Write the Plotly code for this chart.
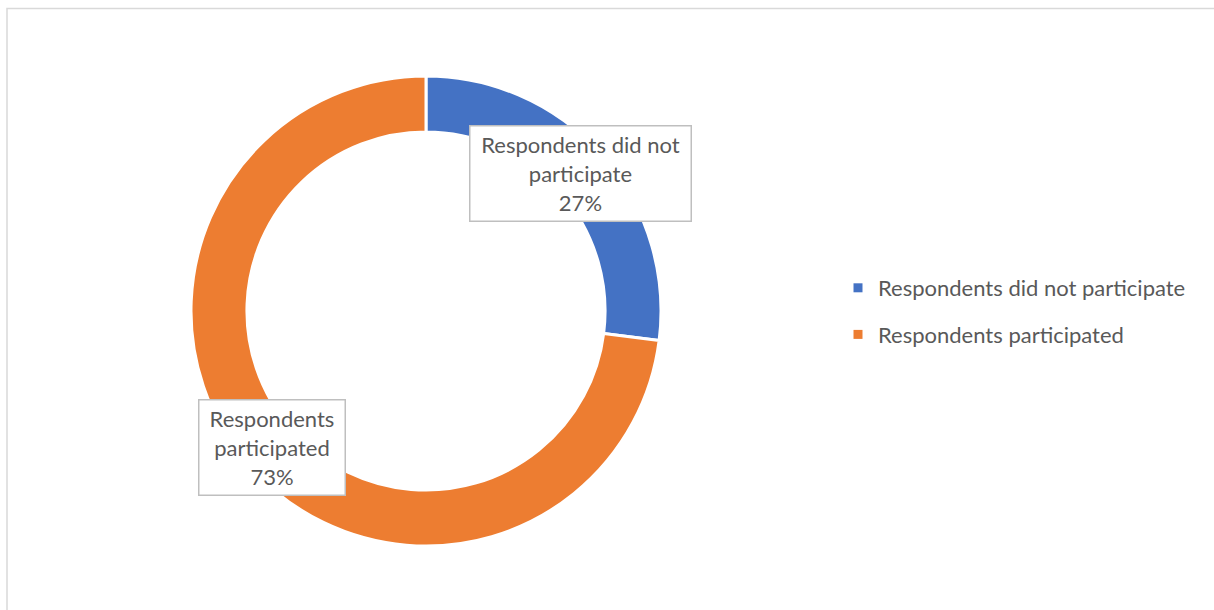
import plotly.graph_objects as go

categories = ["Respondents did not participate", "Respondents participated"]
values = [27, 73]
colors = ["#4472C4", "#ED7D31"]
label_lines = [["Respondents did not", "participate"], ["Respondents", "participated"]]

W, H = 1214, 610
cx, cy, R = 426, 311, 235

fig = go.Figure()
fig.add_trace(go.Pie(
    labels=categories, values=values, hole=0.762, sort=False,
    direction="clockwise", rotation=0,
    marker=dict(colors=colors, line=dict(color="white", width=3)),
    textinfo="none", hoverinfo="label+percent", showlegend=False,
    domain=dict(x=[(cx - R) / W, (cx + R) / W], y=[(H - cy - R) / H, (H - cy + R) / H]),
))

# legend entries (one group each to control spacing)
for i, (c, col) in enumerate(zip(categories, colors)):
    fig.add_trace(go.Scatter(
        x=[None], y=[None], mode="markers", name=c, legendgroup=f"g{i}",
        marker=dict(symbol="square", size=9, color=col),
    ))

total = sum(values)
label_pos = [(580, 173, 218), (271.5, 447.5, 143)]
for lines, v, (lx, ly, bw) in zip(label_lines, values, label_pos):
    pct = round(100 * v / total)
    fig.add_annotation(
        x=lx / W, y=(H - ly) / H, xref="paper", yref="paper",
        text="<br>".join(lines + [f"{pct}%"]), showarrow=False,
        font=dict(family="Lato, Open Sans, sans-serif", size=22, color="#595959"),
        bgcolor="white", bordercolor="#BFBFBF", borderwidth=1.5,
        width=bw, height=92, align="center", xanchor="center", yanchor="middle",
    )

# chart frame
fig.add_shape(type="rect", xref="paper", yref="paper",
              x0=7 / W, x1=1.02, y0=-0.02, y1=(H - 8.5) / H,
              line=dict(color="#D9D9D9", width=1.5), fillcolor="rgba(0,0,0,0)", layer="below")

fig.update_layout(
    width=W, height=H, margin=dict(l=0, r=0, t=0, b=0),
    paper_bgcolor="white", plot_bgcolor="white",
    xaxis=dict(visible=False), yaxis=dict(visible=False),
    legend=dict(x=838 / W, y=(H - 267) / H, xanchor="left", yanchor="top",
                font=dict(family="Lato, Open Sans, sans-serif", size=22, color="#595959"),
                tracegroupgap=15, bgcolor="rgba(0,0,0,0)"),
)

fig.write_html("out.html")
